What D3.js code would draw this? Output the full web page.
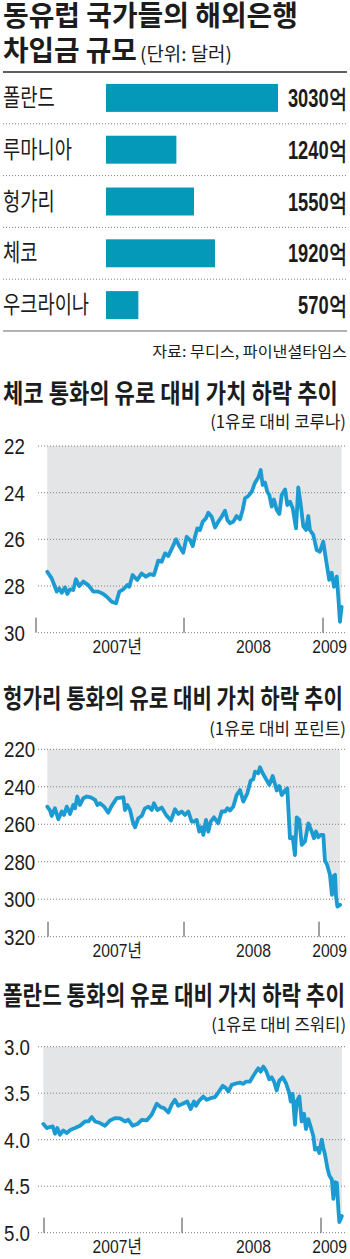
<!DOCTYPE html>
<html>
<head>
<meta charset="utf-8">
<script src="https://cdn.jsdelivr.net/npm/d3@7"></script>
<style>
  body { margin: 0; background: #fff; }
  svg { display: block; }
  text { fill: #1c1c1c; }
</style>
</head>
<body>
<svg id="chart" width="350" height="1259"></svg>
<script>
// ---- Borrowings from foreign banks (unit: 100 million USD)
const countries = ["폴란드", "루마니아", "헝가리", "체코", "우크라이나"];
const borrowings = [3030, 1240, 1550, 1920, 570];
const borrowingLabels = ["3030억", "1240억", "1550억", "1920억", "570억"];

// ---- Czech koruna per euro (decimal year, rate)
const czYears = [2007.076,2007.106,2007.128,2007.140,2007.157,2007.174,2007.196,2007.211,2007.230,2007.252,
  2007.270,2007.293,2007.320,2007.353,2007.387,2007.421,2007.455,2007.478,2007.511,2007.541,
  2007.563,2007.590,2007.617,2007.630,2007.653,2007.684,2007.714,2007.743,2007.770,2007.797,
  2007.811,2007.826,2007.849,2007.872,2007.894,2007.924,2007.946,2007.968,2007.995,
  2008.019,2008.043,2008.063,2008.079,2008.096,2008.115,2008.135,2008.158,2008.175,2008.199,
  2008.223,2008.247,2008.271,2008.295,2008.312,2008.331,2008.355,2008.379,2008.403,2008.422,
  2008.439,2008.463,2008.487,2008.511,2008.535,2008.552,2008.566,2008.583,2008.599,2008.614,
  2008.631,2008.647,2008.667,2008.686,2008.703,2008.727,2008.743,2008.763,2008.782,2008.806,
  2008.822,2008.840,2008.858,2008.878,2008.894,2008.906,2008.930,2008.955,2008.978,
  2009.002,2009.022,2009.045,2009.063,2009.079,2009.099,2009.110,2009.122,2009.134];
const czRates = [27.39,27.67,28.03,28.24,28.10,28.29,28.06,28.34,28.14,28.17,
  27.71,28.00,27.81,27.96,28.24,28.24,28.34,28.46,28.67,28.74,
  28.24,28.14,27.96,28.03,27.53,27.74,27.46,27.60,27.49,27.53,
  27.24,26.91,26.96,26.60,26.71,26.31,26.00,26.29,26.57,
  25.89,26.03,26.29,25.89,25.53,25.60,25.24,25.10,24.86,25.03,
  25.49,25.24,25.03,24.77,25.17,25.31,25.24,25.00,25.14,24.74,
  24.24,24.14,23.96,23.57,23.34,23.03,23.67,23.57,23.96,24.10,
  24.60,24.29,24.74,24.91,24.10,23.86,24.53,24.39,24.67,25.53,
  23.77,24.53,25.43,25.60,25.00,25.60,25.81,26.46,26.53,
  26.10,26.89,27.74,27.43,28.03,27.60,28.46,29.53,28.89];

// ---- Hungarian forint per euro
const huYears = [2006.995,2007.015,2007.027,2007.051,2007.076,2007.101,2007.118,2007.138,2007.162,2007.186,
  2007.199,2007.215,2007.235,2007.260,2007.285,2007.314,2007.346,2007.363,2007.382,2007.412,
  2007.443,2007.468,2007.505,2007.554,2007.566,2007.583,2007.603,2007.623,2007.640,2007.664,
  2007.689,2007.713,2007.738,2007.763,2007.779,2007.804,2007.836,2007.868,2007.904,2007.934,
  2007.958,2007.983,2008.007,2008.032,2008.057,2008.074,2008.094,2008.113,2008.131,2008.143,
  2008.163,2008.180,2008.198,2008.222,2008.254,2008.279,2008.304,2008.321,2008.341,2008.365,
  2008.390,2008.415,2008.439,2008.469,2008.494,2008.513,2008.526,2008.550,2008.563,2008.583,
  2008.600,2008.632,2008.657,2008.687,2008.706,2008.724,2008.748,2008.765,2008.785,2008.805,
  2008.822,2008.835,2008.854,2008.872,2008.896,2008.921,2008.946,2008.963,2008.978,2008.995,
  2009.013,2009.032,2009.044,2009.061,2009.081,2009.096,2009.106,2009.119,2009.126,2009.136,2009.156];
const huRates = [250.6,252.7,255.6,251.5,257.3,253.2,255.0,250.6,254.5,249.7,
  251.5,245.2,249.7,246.1,245.2,245.6,247.0,249.7,248.8,250.6,
  253.8,250.2,246.1,245.6,252.4,249.7,252.4,258.6,261.6,256.8,
  255.6,251.5,250.6,252.4,248.8,252.4,251.1,255.0,258.0,252.0,
  254.5,253.2,255.0,253.2,258.6,258.6,257.7,263.9,261.6,265.7,
  257.7,263.9,258.6,256.3,259.5,253.2,253.2,251.5,252.7,250.6,
  244.4,241.7,247.9,243.5,236.7,236.0,231.9,232.8,229.6,232.8,
  234.9,239.0,234.2,242.0,239.6,244.4,242.0,240.8,267.5,266.9,
  276.4,256.3,257.7,271.0,269.2,259.5,263.9,267.5,263.9,266.9,
  265.7,265.7,279.4,281.7,287.0,297.7,287.9,287.0,298.6,303.9,303.0];

// ---- Polish zloty per euro
const plYears = [2006.995,2007.020,2007.043,2007.063,2007.080,2007.096,2007.116,2007.140,2007.164,2007.193,
  2007.225,2007.261,2007.297,2007.321,2007.346,2007.370,2007.406,2007.442,2007.478,2007.514,
  2007.551,2007.587,2007.611,2007.643,2007.676,2007.708,2007.744,2007.780,2007.817,2007.846,
  2007.870,2007.901,2007.925,2007.949,2007.973,2008.005,2008.038,2008.063,2008.086,2008.101,
  2008.124,2008.153,2008.178,2008.206,2008.237,2008.261,2008.293,2008.317,2008.333,2008.358,
  2008.394,2008.417,2008.441,2008.460,2008.489,2008.513,2008.532,2008.549,2008.566,2008.585,
  2008.604,2008.628,2008.645,2008.662,2008.681,2008.700,2008.724,2008.748,2008.772,2008.782,
  2008.796,2008.813,2008.825,2008.844,2008.861,2008.878,2008.892,2008.909,2008.926,2008.945,
  2008.957,2008.974,2008.988,2009.005,2009.017,2009.029,2009.046,2009.060,2009.078,2009.089,
  2009.101,2009.114,2009.125,2009.132,2009.150];
const plRates = [3.830,3.875,3.864,3.857,3.936,3.875,3.946,3.900,3.929,3.893,
  3.875,3.850,3.804,3.804,3.757,3.804,3.821,3.850,3.793,3.768,
  3.771,3.804,3.786,3.850,3.832,3.786,3.793,3.732,3.614,3.650,
  3.661,3.707,3.625,3.571,3.636,3.614,3.589,3.671,3.589,3.636,
  3.579,3.536,3.571,3.554,3.543,3.493,3.421,3.446,3.482,3.411,
  3.393,3.386,3.400,3.375,3.375,3.314,3.268,3.232,3.268,3.214,
  3.257,3.350,3.329,3.375,3.471,3.364,3.329,3.393,3.500,3.589,
  3.507,3.839,3.589,3.536,3.804,3.721,3.886,3.779,3.864,3.964,
  4.107,4.089,4.143,4.000,4.089,4.161,4.304,4.386,4.429,4.636,
  4.457,4.464,4.750,4.886,4.821];

// ---- axes
const yearTicks = [2007, 2008, 2009];
const yearTickLabels = ["2007년", "2008", "2009"];
const czTicks = [22, 24, 26, 28, 30];
const huTicks = [220, 240, 260, 280, 300, 320];
const plTicks = [3.0, 3.5, 4.0, 4.5, 5.0];
const plTickLabels = ["3.0", "3.5", "4.0", "4.5", "5.0"];

// ---- styling
const KR = '"Noto Sans CJK KR","Noto Sans",sans-serif';
const NUM = '"Liberation Sans",Arial,sans-serif';
const BAR = "#0599b9";
const LINE = "#1b9bd1";
const SHADE = "#e4e5e7";
const DOT = "#7d7d7d";

const svg = d3.select("#chart");

// Text is placed with a transform so that condensed type can be made by a
// horizontal scale around the anchor point.
function label(g, x, y, size, weight, family, txt, anchor) {
  return g.append("text")
    .attr("transform", `translate(${x},${y})`)
    .attr("text-anchor", anchor || "start")
    .datum({ x, y })
    .style("font-size", size + "px").style("font-weight", weight)
    .style("font-family", family).text(txt);
}
function squeeze(sel, k) {
  sel.each(function (d) {
    d.k = k;
    d3.select(this).attr("transform", `translate(${d.x},${d.y}) scale(${k},1)`);
  });
}
function fitWidth(sel, w) {
  sel.each(function (d) {
    const k = w / this.getComputedTextLength();
    d.k = k;
    d3.select(this).attr("transform", `translate(${d.x},${d.y}) scale(${k},1)`);
  });
}

// ================= headline + bar chart =================
label(svg, 3, 26, 28, 700, KR, "동유럽 국가들의 해외은행").call(fitWidth, 295);
label(svg, 3, 61, 28, 700, KR, "차입금 규모").call(fitWidth, 134);
label(svg, 140, 61, 19, 400, KR, "(단위: 달러)").call(fitWidth, 92);

svg.append("line").attr("x1", 3).attr("x2", 347).attr("y1", 72).attr("y2", 72)
  .attr("stroke", "#2a2a2a").attr("stroke-width", 1.6);

const yBand = d3.scaleBand().domain(countries).range([72, 331])
  .paddingInner(0.46).paddingOuter(0.23);
const xBar = d3.scaleLinear().domain([0, d3.max(borrowings)]).range([106, 278]);

const bars = svg.append("g");
bars.selectAll("rect").data(countries).join("rect")
  .attr("x", xBar(0))
  .attr("y", d => yBand(d))
  .attr("height", yBand.bandwidth())
  .attr("width", (d, i) => xBar(borrowings[i]) - xBar(0))
  .attr("fill", BAR);

// dotted rules between rows
bars.selectAll("line.sep").data(countries.slice(1)).join("line")
  .attr("class", "sep")
  .attr("x1", 3).attr("x2", 347)
  .attr("y1", d => yBand(d) - (yBand.step() - yBand.bandwidth()) / 2)
  .attr("y2", d => yBand(d) - (yBand.step() - yBand.bandwidth()) / 2)
  .attr("stroke", DOT).attr("stroke-width", 1).attr("stroke-dasharray", "1,2");

svg.append("line").attr("x1", 3).attr("x2", 347).attr("y1", 331).attr("y2", 331)
  .attr("stroke", "#9a9a9a").attr("stroke-width", 1.5);

countries.forEach(c => {
  const cy = yBand(c) + yBand.bandwidth() / 2;
  label(bars, 3, cy + 8, 24, 400, KR, c).call(squeeze, 0.78);
});
const valueTexts = borrowingLabels.map((t, i) => {
  const cy = yBand(countries[i]) + yBand.bandwidth() / 2;
  return label(bars, 347, cy + 9, 25, 700, NUM, t, "end");
});
const widest = d3.max(valueTexts, t => t.node().getComputedTextLength());
valueTexts.forEach(t => t.call(squeeze, 59 / widest));

label(svg, 347, 357, 15, 400, KR, "자료: 무디스, 파이낸셜타임스", "end").call(fitWidth, 195);

// ================= currency line charts =================
const labelX = d3.scaleLinear().domain(yearTicks).range([36, 184, 323]);

const panels = [
  { title: "체코 통화의 유로 대비 가치 하락 추이", titleW: 335, titleY: 403,
    unit: "(1유로 대비 코루나)", unitW: 136, unitY: 428,
    years: czYears, rates: czRates, ticks: czTicks, tickLabels: czTicks.map(String),
    top: 446, bottom: 632.7, xr: [36, 184, 323] },
  { title: "헝가리 통화의 유로 대비 가치 하락 추이", titleW: 340, titleY: 708,
    unit: "(1유로 대비 포린트)", unitW: 137, unitY: 735,
    years: huYears, rates: huRates, ticks: huTicks, tickLabels: huTicks.map(String),
    top: 749.3, bottom: 936.7, xr: [48, 184, 319] },
  { title: "폴란드 통화의 유로 대비 가치 하락 추이", titleW: 342, titleY: 1005,
    unit: "(1유로 대비 즈워티)", unitW: 135, unitY: 1031,
    years: plYears, rates: plRates, ticks: plTicks, tickLabels: plTickLabels,
    top: 1046.7, bottom: 1232.7, xr: [44, 182, 321] }
];

panels.forEach(p => {
  const g = svg.append("g");
  const x = d3.scaleLinear().domain(yearTicks).range(p.xr);
  const y = d3.scaleLinear().domain(d3.extent(p.ticks)).range([p.top, p.bottom]);
  const pts = p.years.map((yr, i) => [yr, p.rates[i]]);

  label(g, 3, p.titleY, 26, 700, KR, p.title).call(fitWidth, p.titleW);
  label(g, 346, p.unitY, 17, 400, KR, p.unit, "end").call(fitWidth, p.unitW);

  // shaded band between the top of the scale and the curve
  g.append("path").datum(pts)
    .attr("d", d3.area().x(d => x(d[0])).y0(y(p.ticks[0])).y1(d => y(d[1])))
    .attr("fill", SHADE);

  // dotted grid + value labels
  g.selectAll("line.grid").data(p.ticks).join("line")
    .attr("class", "grid")
    .attr("x1", 38).attr("x2", 347)
    .attr("y1", d => y(d)).attr("y2", d => y(d))
    .attr("stroke", DOT).attr("stroke-width", 1).attr("stroke-dasharray", "1,2");
  p.ticks.forEach((t, i) => {
    label(g, 4, y(t) + 8, 22, 400, NUM, p.tickLabels[i]).call(squeeze, 0.85);
  });

  // year boundary ticks
  g.selectAll("line.yr").data(yearTicks).join("line")
    .attr("class", "yr")
    .attr("x1", d => x(d)).attr("x2", d => x(d))
    .attr("y1", p.bottom - 15).attr("y2", p.bottom)
    .attr("stroke", "#444").attr("stroke-width", 1);

  // year labels: the numeral is centred in its year, a suffix trails it
  const by = p.bottom + 20.5;
  yearTickLabels.forEach((t, i) => {
    const num = t.replace(/[^0-9]/g, "");
    const suffix = t.replace(/[0-9]/g, "");
    if (i === yearTickLabels.length - 1) {
      label(g, 347, by, 18, 400, NUM, t, "end").call(squeeze, 0.87);
      return;
    }
    const cx = labelX(yearTicks[i] + 0.5);
    const probe = label(g, 0, 0, 18, 400, NUM, num);
    const numW = probe.node().getComputedTextLength() * 0.87;
    probe.remove();
    const el = label(g, cx - numW / 2, by, 18, 400, NUM, "");
    el.append("tspan").text(num);
    if (suffix) el.append("tspan").style("font-family", KR).text(suffix);
    el.call(squeeze, 0.87);
  });

  // rate curve
  g.append("path").datum(pts)
    .attr("d", d3.line().x(d => x(d[0])).y(d => y(d[1])))
    .attr("fill", "none").attr("stroke", LINE)
    .attr("stroke-width", 3.8).attr("stroke-linejoin", "round").attr("stroke-linecap", "round");
});
</script>
</body>
</html>
